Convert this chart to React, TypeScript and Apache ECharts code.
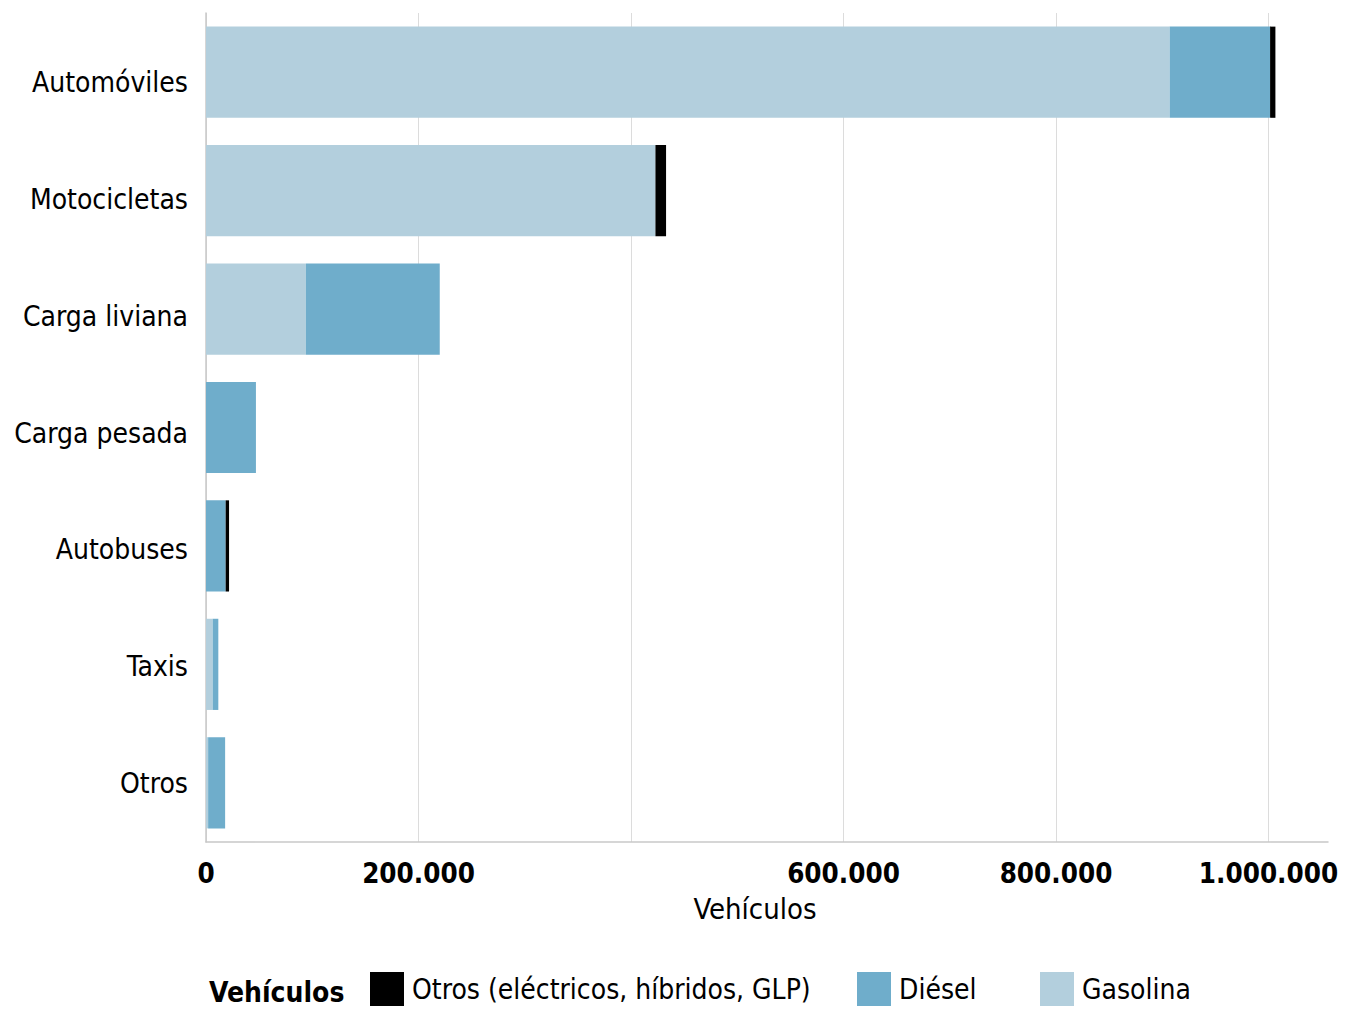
import React, { useEffect, useRef } from "react";
import * as echarts from "echarts";

const categories = ["Automóviles", "Motocicletas", "Carga liviana", "Carga pesada", "Autobuses", "Taxis", "Otros"];
const gasolina = [907000, 423000, 94000, 0, 0, 6300, 2000];
const diesel = [94500, 0, 126000, 47000, 18500, 5300, 16000];
const otros = [5000, 10000, 0, 0, 3200, 0, 0];
const shownTicks: Record<number, string> = {
  0: "0",
  200000: "200.000",
  600000: "600.000",
  800000: "800.000",
  1000000: "1.000.000",
};

const FONT = "'DejaVu Sans Condensed', 'Liberation Sans Narrow', sans-serif";
const C_GAS = "#b3cfdd";
const C_DIE = "#6fadcb";
const C_OTR = "#000000";

export default function App() {
  const ref = useRef<HTMLDivElement>(null);
  useEffect(() => {
    if (!ref.current) return;
    const chart = echarts.init(ref.current, null, { renderer: "svg" });
    const legendText = { fontFamily: FONT, fontSize: 28, color: "#000", padding: [6, 0, 0, 3] };
    const legendBase = { top: 972, itemWidth: 34, itemHeight: 34, icon: "rect", padding: 0, textStyle: legendText, selectedMode: false };
    chart.setOption({
      animation: false,
      textStyle: { fontFamily: FONT },
      grid: [
        { left: 206, right: 23, top: 13, bottom: 169, containLabel: false },
        { left: 206, right: 23, top: 24, bottom: 169, containLabel: false },
      ],
      xAxis: [
        {
          type: "value",
          gridIndex: 0,
          min: 0,
          max: 1056000,
          interval: 200000,
          name: "Vehículos",
          nameLocation: "middle",
          nameGap: 52,
          nameTextStyle: { fontFamily: FONT, fontSize: 29, color: "#000", padding: [0, 24, 0, 0] },
          axisLine: { show: true, lineStyle: { color: "#c8c8c8", width: 1.5 } },
          axisTick: { show: false },
          axisLabel: {
            margin: 17,
            fontFamily: FONT,
            fontSize: 27.5,
            fontWeight: "bold",
            color: "#000",
            showMaxLabel: false,
            formatter: (v: number) => shownTicks[v] ?? "",
          },
          splitLine: { show: true, showMaxLine: false, lineStyle: { color: "#dcdcdc", width: 1 } },
        },
        { type: "value", gridIndex: 1, show: false, min: 0, max: 1 },
      ],
      yAxis: [
        {
          type: "category",
          gridIndex: 0,
          data: categories,
          inverse: true,
          axisLine: { show: true, lineStyle: { color: "#c8c8c8", width: 1.5 } },
          axisTick: { show: false },
          axisLabel: { show: false },
        },
        {
          type: "category",
          gridIndex: 1,
          data: categories,
          inverse: true,
          axisLine: { show: false },
          axisTick: { show: false },
          splitLine: { show: false },
          axisLabel: { margin: 18, fontFamily: FONT, fontSize: 28, color: "#000" },
        },
      ],
      legend: [
        { ...legendBase, data: ["Otros (eléctricos, híbridos, GLP)"], left: 370 },
        { ...legendBase, data: ["Diésel"], left: 857 },
        { ...legendBase, data: ["Gasolina"], left: 1040 },
      ],
      graphic: [
        {
          type: "text",
          left: 209,
          top: 978,
          style: { text: "Vehículos", fontFamily: FONT, fontSize: 28, fontWeight: "bold", fill: "#000" },
        },
      ],
      series: [
        {
          name: "Gasolina", type: "bar", stack: "v", data: gasolina,
          barCategoryGap: "23%", itemStyle: { color: C_GAS },
        },
        {
          name: "Diésel", type: "bar", stack: "v", data: diesel,
          barCategoryGap: "23%", itemStyle: { color: C_DIE },
        },
        {
          name: "Otros (eléctricos, híbridos, GLP)", type: "bar", stack: "v", data: otros,
          barCategoryGap: "23%", itemStyle: { color: C_OTR },
        },
      ],
    });
    return () => chart.dispose();
  }, []);
  return <div ref={ref} style={{ width: 1351, height: 1011, marginLeft: -8, marginTop: -8 }} />;
}
